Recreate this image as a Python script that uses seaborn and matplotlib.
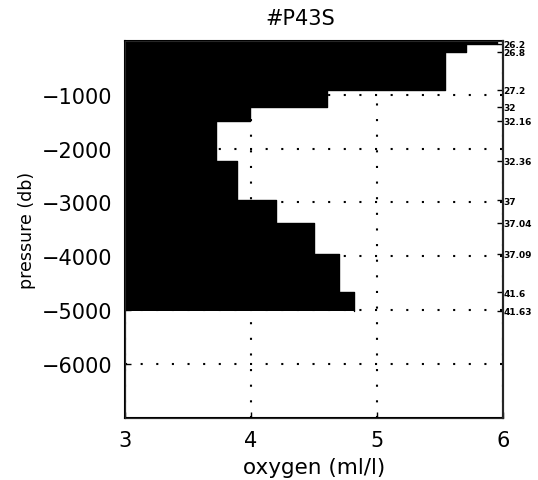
import numpy as np
import pandas as pd
import seaborn as sns
import matplotlib
matplotlib.use("Agg")
import matplotlib.pyplot as plt

# layer data (bottom pressure of each layer, oxygen in layer)
layer_bottom = [-50, -200, -910, -1220, -1480, -2230, -2960, -3380, -3950, -4670, -5010]
oxygen = [5.95, 5.71, 5.54, 4.60, 3.99, 3.72, 3.89, 4.20, 4.50, 4.70, 4.82]
density_labels = ["26.2", "26.8", "27.2", "32", "32.16", "32.36",
                  "37", "37.04", "37.09", "41.6", "41.63"]

x_ticks = [3, 4, 5, 6]
y_ticks = [-1000, -2000, -3000, -4000, -5000, -6000]

sns.set_style("ticks")
plt.rcParams["font.family"] = ["DejaVu Sans"]
plt.rcParams.update({"text.color": "black", "axes.labelcolor": "black",
                     "xtick.color": "black", "ytick.color": "black"})

# step profile: each layer spans from previous bottom to its own bottom
layer_top = [0] + layer_bottom[:-1]
prof = pd.DataFrame({
    "pressure": np.ravel(list(zip(layer_top, layer_bottom))),
    "oxygen": np.ravel(list(zip(oxygen, oxygen))),
})

fig = plt.figure(figsize=(5.38, 4.81), dpi=100)
ax = fig.add_axes([0.232, 0.129, 0.703, 0.784])

ax.fill_betweenx(prof["pressure"], 3, prof["oxygen"], color="black", zorder=3, linewidth=0)
sns.lineplot(data=prof, x="oxygen", y="pressure", sort=False, estimator=None,
             color="black", linewidth=1.0, ax=ax, zorder=4)

ax.set_xlim(3, 6)
ax.set_ylim(-7000, 0)
ax.set_xticks(x_ticks)
ax.set_yticks(y_ticks)
ax.set_yticklabels([f"\u2212{abs(v)}" for v in y_ticks])
ax.tick_params(direction="in", length=4, width=1, labelsize=15, pad=9)
ax.grid(True, color="black", linestyle=(0, (1, 6.5)), linewidth=1.5, zorder=1)
ax.set_axisbelow(True)
for s in ax.spines.values():
    s.set_linewidth(1.5)
    s.set_color("black")
    s.set_zorder(5)

ax.set_xlabel("oxygen (ml/l)", fontsize=15.5, labelpad=5)
ax.set_ylabel("pressure (db)", fontsize=12.5, labelpad=4)
ax.set_title("#P43S", fontsize=15, pad=12, x=0.463)

ax2 = ax.twinx()
ax2.set_ylim(-7000, 0)
ax2.set_yticks(layer_bottom)
ax2.set_yticklabels(density_labels)
ax2.tick_params(direction="in", length=4, width=1, labelsize=6.5, pad=0.5)
for lab in ax2.get_yticklabels():
    lab.set_fontweight("bold")
ax2.spines["right"].set_linewidth(1.5)

fig.savefig("out.png", dpi=100)
